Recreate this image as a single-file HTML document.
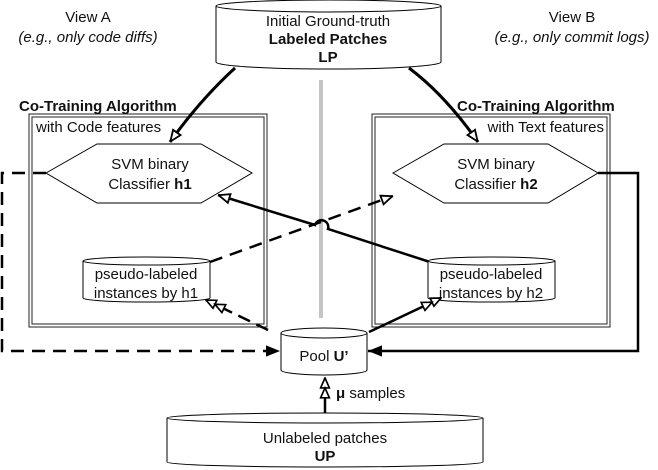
<!DOCTYPE html>
<html><head><meta charset="utf-8"><style>
body{margin:0;background:#fff}
svg{display:block}
text{font-family:"Liberation Sans",Arial,sans-serif;font-size:15px;fill:#111}
.b{font-weight:bold}
</style></head><body>
<svg width="658" height="470" viewBox="0 0 658 470" xmlns="http://www.w3.org/2000/svg">
<defs>
<marker id="hh" viewBox="0 0 20 10" refX="19" refY="5" markerWidth="22" markerHeight="11" orient="auto" markerUnits="userSpaceOnUse">
<path d="M1,1 L10,5 L1,9 Z M10,1 L19,5 L10,9 Z" fill="#fff" stroke="#000" stroke-width="1.5"/>
</marker>
<marker id="fl" viewBox="0 0 10 10" refX="10" refY="5" markerWidth="14" markerHeight="14" orient="auto" markerUnits="userSpaceOnUse">
<path d="M0,1 L10,5 L0,9 Z" fill="#000"/>
</marker>
<marker id="hs" viewBox="0 0 10 10" refX="10" refY="5" markerWidth="13" markerHeight="13" orient="auto" markerUnits="userSpaceOnUse">
<path d="M1,1.5 L9.5,5 L1,8.5 Z" fill="#fff" stroke="#000" stroke-width="1.4"/>
</marker>
</defs>

<text x="88" y="22" text-anchor="middle">View A</text>
<text x="88" y="42" text-anchor="middle" font-style="italic">(e.g., only code diffs)</text>
<text x="572" y="22" text-anchor="middle">View B</text>
<text x="572" y="42" text-anchor="middle" font-style="italic">(e.g., only commit logs)</text>

<line x1="321" y1="80" x2="321" y2="318" stroke="#c4c4c4" stroke-width="4"/>

<rect x="29" y="114" width="238" height="213" fill="none" stroke="#222" stroke-width="1"/>
<rect x="32" y="117" width="232" height="207" fill="none" stroke="#222" stroke-width="1"/>
<rect x="372" y="114" width="238" height="213" fill="none" stroke="#222" stroke-width="1"/>
<rect x="375" y="117" width="232" height="207" fill="none" stroke="#222" stroke-width="1"/>
<text x="19" y="111" class="b">Co-Training Algorithm</text>
<text x="36" y="132">with Code features</text>
<text x="457" y="111" class="b">Co-Training Algorithm</text>
<text x="604" y="132" text-anchor="end">with Text features</text>

<path d="M216,6 L216,62 A112,7 0 0 0 441,62 L441,6" fill="#fff" stroke="#000"/>
<ellipse cx="328.5" cy="6" rx="112.5" ry="6" fill="#fff" stroke="#000"/>
<text x="328" y="26" text-anchor="middle">Initial Ground-truth</text>
<text x="328" y="44" text-anchor="middle" class="b">Labeled Patches</text>
<text x="328" y="62" text-anchor="middle" class="b">LP</text>

<path d="M235,68 Q200,100 170,142" fill="none" stroke="#000" stroke-width="3" marker-end="url(#hs)"/>
<path d="M409,68 Q445,95 478,142" fill="none" stroke="#000" stroke-width="3" marker-end="url(#hs)"/>

<polygon points="46,173 97,144 201,144 252,173 201,203 97,203" fill="#fff" stroke="#000"/>
<text x="150" y="169" text-anchor="middle">SVM binary</text>
<text x="150" y="189" text-anchor="middle">Classifier <tspan class="b">h1</tspan></text>
<polygon points="393,173 444,144 548,144 598,173 548,203 444,203" fill="#fff" stroke="#000"/>
<text x="496" y="169" text-anchor="middle">SVM binary</text>
<text x="496" y="189" text-anchor="middle">Classifier <tspan class="b">h2</tspan></text>

<path d="M210,262 L393,196" fill="none" stroke="#000" stroke-width="2.5" stroke-dasharray="13,8" marker-end="url(#hs)"/>
<path d="M430,262 L328,229 A6,6 0 0 0 315,225 L218,195" fill="none" stroke="#000" stroke-width="2.5" marker-end="url(#hs)"/>

<path d="M83,261 L83,298 A63.5,4 0 0 0 210,298 L210,261" fill="#fff" stroke="#000"/>
<ellipse cx="146.5" cy="261" rx="63.5" ry="4" fill="#fff" stroke="#000"/>
<text x="146" y="279" text-anchor="middle">pseudo-labeled</text>
<text x="146" y="298" text-anchor="middle">instances by h1</text>
<path d="M428,261 L428,298 A63.5,4 0 0 0 555,298 L555,261" fill="#fff" stroke="#000"/>
<ellipse cx="491.5" cy="261" rx="63.5" ry="4" fill="#fff" stroke="#000"/>
<text x="491" y="279" text-anchor="middle">pseudo-labeled</text>
<text x="491" y="298" text-anchor="middle">instances by h2</text>

<path d="M268,330 L206,300" fill="none" stroke="#000" stroke-width="2.5" stroke-dasharray="13,7" marker-end="url(#hh)"/>
<path d="M369,332 L441,298" fill="none" stroke="#000" stroke-width="2.5" marker-end="url(#hh)"/>

<path d="M46,173 L2,173 L2,351 L280,351" fill="none" stroke="#000" stroke-width="2.5" stroke-dasharray="13,8" marker-end="url(#fl)"/>
<path d="M598,173 L638,173 L638,351 L368,351" fill="none" stroke="#000" stroke-width="2.5" marker-end="url(#fl)"/>

<path d="M281,333 L281,370 A43,5 0 0 0 367,370 L367,333" fill="#fff" stroke="#000"/>
<ellipse cx="324" cy="333" rx="43" ry="5" fill="#fff" stroke="#000"/>
<text x="324" y="361" text-anchor="middle">Pool <tspan class="b">U’</tspan></text>

<path d="M325,414 L325,378" fill="none" stroke="#000" stroke-width="2.5" marker-end="url(#hh)"/>
<text x="336" y="398"><tspan class="b">μ</tspan> samples</text>

<path d="M167,418 L167,462 A158,5 0 0 0 483,462 L483,418" fill="#fff" stroke="#000"/>
<ellipse cx="325" cy="418" rx="158" ry="5" fill="#fff" stroke="#000"/>
<text x="325" y="443" text-anchor="middle">Unlabeled patches</text>
<text x="325" y="461" text-anchor="middle" class="b">UP</text>
</svg>
</body></html>
